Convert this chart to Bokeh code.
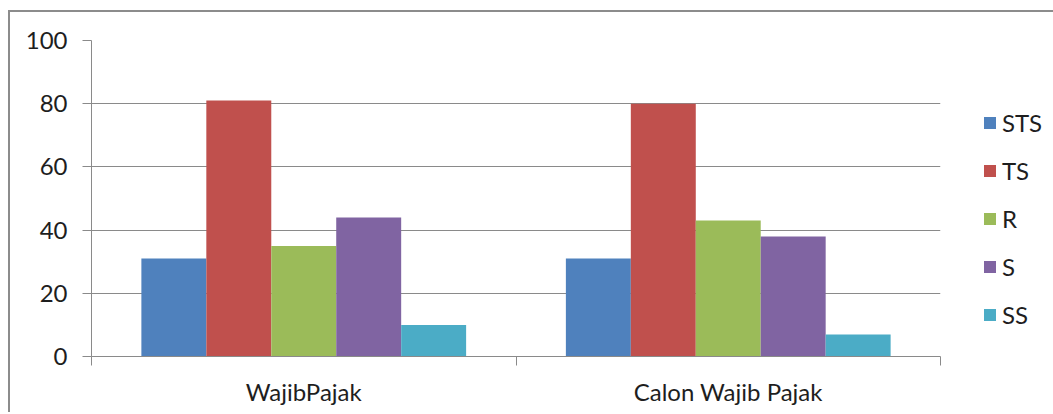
import numpy as np
from bokeh.plotting import figure
from bokeh.models import (Range1d, LinearAxis, FixedTicker, Legend, LegendItem,
                          ColumnDataSource, Grid)
from bokeh.embed import file_html
from bokeh.resources import INLINE

# ---- data ----
categories = ["WajibPajak", "Calon Wajib Pajak"]
series = ["STS", "TS", "R", "S", "SS"]
sts = [31, 31]
ts = [81, 80]
r_vals = [35, 43]
s_vals = [44, 38]
ss = [10, 7]
y_ticks = [0, 20, 40, 60, 80, 100]
colors = ["#4F81BD", "#C0504D", "#9BBB59", "#8064A2", "#4BACC6"]
values = [sts, ts, r_vals, s_vals, ss]

FONT = "Lato"
TXT = "#1e1e1e"
GRID = "#8a8a8a"

p = figure(frame_width=849, frame_height=316, x_range=Range1d(0, len(categories)),
           y_range=Range1d(0, 100), output_backend="svg", toolbar_location=None,
           x_axis_type=None, y_axis_type=None,
           min_border_left=81, min_border_right=100, min_border_top=28,
           min_border_bottom=56)
p.margin = (10, 0, 0, 8)
p.styles = {"border-left": "2px solid #8c8c8c", "border-top": "2px solid #8c8c8c"}
p.outline_line_color = None
p.background_fill_color = "white"
p.border_fill_color = "white"

# y axis
yaxis = LinearAxis(ticker=FixedTicker(ticks=y_ticks))
yaxis.axis_line_color = GRID
yaxis.major_tick_line_color = GRID
yaxis.major_tick_out = 9
yaxis.major_tick_in = 0
yaxis.minor_tick_line_color = None
yaxis.major_label_text_font = FONT
yaxis.major_label_text_font_size = "24px"
yaxis.major_label_text_color = TXT
yaxis.major_label_standoff = 15
p.add_layout(yaxis, "left")
p.add_layout(Grid(dimension=1, ticker=yaxis.ticker, grid_line_color=GRID))

# x axis: ticks at category boundaries
xaxis_ticks = LinearAxis(ticker=FixedTicker(ticks=list(range(len(categories) + 1))))
xaxis_ticks.axis_line_color = GRID
xaxis_ticks.major_tick_line_color = GRID
xaxis_ticks.major_tick_out = 9
xaxis_ticks.major_tick_in = 0
xaxis_ticks.minor_tick_line_color = None
xaxis_ticks.major_label_text_font_size = "1px"
xaxis_ticks.major_label_text_alpha = 0
xaxis_ticks.major_label_standoff = 0
p.add_layout(xaxis_ticks, "below")

# x axis: category labels at centers
centers = [i + 0.5 for i in range(len(categories))]
xaxis_lab = LinearAxis(ticker=FixedTicker(ticks=centers))
xaxis_lab.major_label_overrides = {c: lab for c, lab in zip(centers, categories)}
xaxis_lab.axis_line_color = None
xaxis_lab.major_tick_line_color = None
xaxis_lab.minor_tick_line_color = None
xaxis_lab.major_label_text_font = FONT
xaxis_lab.major_label_text_font_size = "24px"
xaxis_lab.major_label_text_color = TXT
xaxis_lab.major_label_standoff = 5
p.add_layout(xaxis_lab, "below")

# bars
w = 0.153
off = (1 - len(series) * w) / 2
items = []
base = np.arange(len(categories))
for i, (name, vals, col) in enumerate(zip(series, values, colors)):
    src = ColumnDataSource(dict(x=base + off + w * (i + 0.5), top=vals))
    rr = p.vbar(x="x", top="top", bottom=0, width=w, source=src,
                fill_color=col, line_color=None)
    items.append(LegendItem(label=name, renderers=[rr]))

legend = Legend(items=items, location=(42, 27), glyph_width=15, glyph_height=15,
                label_text_font=FONT, label_text_font_size="24px",
                label_text_color=TXT, spacing=19, padding=0, margin=0,
                border_line_color=None, background_fill_alpha=0, label_standoff=5)
p.add_layout(legend, "right")

open("out.html", "w").write(file_html(p, INLINE))
